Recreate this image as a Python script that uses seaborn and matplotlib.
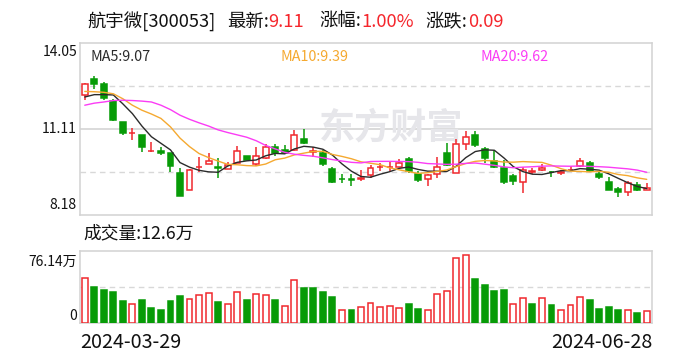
import numpy as np
import pandas as pd
import matplotlib
matplotlib.use("Agg")
import matplotlib.pyplot as plt
import seaborn as sns

# ---------------- data ----------------
stock_name = "航宇微[300053]"
latest = "9.11"
pct_change = "1.00%"
change = "0.09"
ma_labels = ["MA5:9.07", "MA10:9.39", "MA20:9.62"]
volume_label = "成交量:12.6万"
volume_max_label = "76.14万"
price_ticks = [14.05, 11.11, 8.18]
volume_max = 76.14
start_date = "2024-03-29"
end_date = "2024-06-28"

opens = [12.26, 12.80, 12.63, 12.05, 11.35, 10.97, 10.90, 10.35, 10.35, 10.29,
         9.62, 9.03, 9.81, 9.92, 9.82, 9.76, 9.95, 10.18, 9.93, 10.11,
         10.49, 10.40, 10.38, 10.77, 10.34, 10.29, 9.76, 9.42, 9.42, 9.39,
         9.54, 9.80, 9.81, 9.82, 10.10, 9.58, 9.41, 9.56, 10.29, 9.62,
         10.59, 10.91, 10.43, 10.01, 9.79, 9.50, 9.31, 9.66, 9.70, 9.65,
         9.62, 9.70, 9.84, 9.95, 9.58, 9.31, 9.08, 8.98, 9.19, 9.03]
highs = [12.68, 12.91, 12.70, 12.14, 11.36, 11.13, 10.92, 10.68, 10.49, 10.30,
         9.79, 9.74, 10.16, 10.29, 10.12, 9.97, 10.54, 10.20, 10.49, 10.60,
         10.60, 10.56, 11.08, 11.11, 10.49, 10.40, 9.82, 9.56, 9.56, 9.73,
         9.89, 9.95, 9.99, 10.10, 10.16, 9.67, 9.56, 10.16, 10.63, 10.78,
         11.04, 11.04, 10.49, 10.38, 10.07, 9.56, 9.82, 9.79, 9.92, 9.69,
         9.72, 9.86, 10.11, 10.03, 9.67, 9.48, 9.13, 9.33, 9.31, 9.28]
lows = [12.11, 12.48, 12.11, 11.38, 10.92, 10.74, 10.31, 10.33, 10.23, 9.64,
        8.82, 9.02, 9.64, 9.91, 9.45, 9.75, 9.94, 10.05, 9.86, 10.08,
        10.18, 10.27, 10.37, 10.60, 10.16, 9.86, 9.28, 9.28, 9.17, 9.33,
        9.45, 9.67, 9.67, 9.81, 9.62, 9.30, 9.17, 9.45, 9.84, 9.60,
        10.38, 10.49, 9.95, 9.79, 9.22, 9.19, 8.94, 9.58, 9.69, 9.48,
        9.54, 9.68, 9.82, 9.66, 9.39, 9.02, 8.79, 8.83, 9.01, 9.02]
closes = [12.65, 12.63, 12.18, 11.41, 10.96, 10.99, 10.51, 10.36, 10.29, 9.84,
          8.83, 9.73, 9.82, 10.03, 9.77, 9.88, 10.37, 10.07, 10.18, 10.49,
          10.28, 10.30, 10.90, 10.63, 10.35, 9.92, 9.31, 9.40, 9.38, 9.45,
          9.79, 9.82, 9.83, 9.95, 9.69, 9.37, 9.53, 9.82, 9.89, 10.60,
          10.83, 10.57, 10.11, 9.82, 9.30, 9.33, 9.73, 9.67, 9.77, 9.63,
          9.65, 9.73, 10.02, 9.67, 9.47, 9.03, 8.96, 9.28, 9.02, 9.11]
volumes = [47.5, 38.2, 35.4, 33.2, 23.6, 20.0, 24.3, 15.7, 13.6, 23.6,
           28.6, 25.4, 29.3, 31.8, 22.5, 20.0, 32.9, 24.3, 30.7, 29.3,
           24.3, 17.9, 45.8, 37.5, 37.5, 33.2, 27.9, 13.6, 13.9, 16.4,
           21.1, 16.8, 17.9, 15.7, 20.0, 14.7, 13.6, 30.7, 34.0, 69.0,
           71.5, 46.8, 40.4, 34.0, 35.0, 20.0, 26.5, 20.0, 26.5, 18.9,
           13.6, 18.6, 27.5, 24.3, 14.7, 16.8, 13.6, 13.6, 10.4, 12.6]
# moving-average values before enough closes exist in the window
ma5_head = [12.20, 12.28, 12.28, 12.27]
ma10_head = [12.39, 12.38, 12.36, 12.31, 12.14, 11.92, 11.75, 11.62, 11.47]
ma20_head = [11.92, 11.99, 12.03, 12.08, 12.09, 12.08, 12.06, 12.03, 11.92, 11.77,
             11.58, 11.44, 11.32, 11.21, 11.08, 10.99, 10.91, 10.83, 10.71]

# ---------------- styling ----------------
RED = "#f0282d"
GREEN = "#079b07"
TITLE_RED = "#f5262c"
MA_COLORS = ["#2b2b2b", "#f5a930", "#fb3cf5"]
BORDER = "#d2d2d2"
GRID = "#d8d8d8"
TXT = "#111111"

sns.set_theme(style="white")
plt.rcParams["font.family"] = ["Noto Sans CJK SC", "DejaVu Sans"]

n = len(closes)
df = pd.DataFrame({"day": np.arange(n), "open": opens, "high": highs,
                   "low": lows, "close": closes, "volume": volumes})
c = df["close"]
df["ma5"] = c.rolling(5).mean()
df["ma10"] = c.rolling(10).mean()
df["ma20"] = c.rolling(20).mean()
df.loc[: len(ma5_head) - 1, "ma5"] = ma5_head
df.loc[: len(ma10_head) - 1, "ma10"] = ma10_head
df.loc[: len(ma20_head) - 1, "ma20"] = ma20_head

W, H = 688, 360
fig = plt.figure(figsize=(W / 100, H / 100), dpi=100)
fig.patch.set_facecolor("white")


def fx(x):
    return x / W


def fy(y):
    return 1 - y / H


L, R = 80, 651.5
P_TOP, P_BOT = 42.7, 215
V_TOP, V_BOT = 251, 323
ax1 = fig.add_axes([fx(L), fy(P_BOT), (R - L) / W, (P_BOT - P_TOP) / H])
ax2 = fig.add_axes([fx(L), fy(V_BOT), (R - L) / W, (V_BOT - V_TOP) / H])

# ---------------- price panel ----------------
up = (df["close"] >= df["open"]).to_numpy()
body_lo = np.minimum(df["open"], df["close"]).to_numpy()
body_hi = np.maximum(df["open"], df["close"]).to_numpy()
body_h = np.maximum(body_hi - body_lo, 0.02)
cols = np.where(up, RED, GREEN)
x = df["day"].to_numpy()

ax1.vlines(x, df["low"], body_lo, colors=cols, linewidth=1.1, zorder=2)
ax1.vlines(x, body_hi, df["high"], colors=cols, linewidth=1.1, zorder=2)
ax1.bar(x, body_h, bottom=body_lo, width=0.62,
        color=np.where(up, "white", GREEN), edgecolor=cols, linewidth=1.1, zorder=3)

for key, colr in zip(["ma5", "ma10", "ma20"], MA_COLORS):
    sns.lineplot(data=df, x="day", y=key, ax=ax1, color=colr, linewidth=1.0,
                 zorder=4, legend=False)

top, mid, bot = price_ticks
ax1.axhline(mid, color=GRID, linewidth=1.3, zorder=0)
ax1.axhline((top + mid) / 2, color=GRID, linewidth=1.0, linestyle=(0, (4, 3)), zorder=0)
ax1.axhline((mid + bot) / 2, color=GRID, linewidth=1.0, linestyle=(0, (4, 3)), zorder=0)
ax1.set_ylim(bot, top)
ax1.set_xlim(-0.5, n - 0.5)

# watermark
ax1.text(0.545, 0.505, "东方财富", transform=ax1.transAxes, ha="center", va="center",
         fontsize=26, color="#e6e6ea", fontweight="bold", zorder=0)

# ---------------- volume panel ----------------
vol_up = np.concatenate([[closes[0] >= opens[0]], np.diff(closes) >= 0])
sns.barplot(data=df, x="day", y="volume", ax=ax2, width=0.62, errorbar=None,
            color=GREEN, zorder=3)
for patch, is_up in zip(sorted(ax2.patches, key=lambda p: p.get_x()), vol_up):
    patch.set_facecolor("white" if is_up else GREEN)
    patch.set_edgecolor(RED if is_up else GREEN)
    patch.set_linewidth(1.1)
ax2.axhline(volume_max / 2, color=GRID, linewidth=1.0, linestyle=(0, (4, 3)), zorder=0)
ax2.set_ylim(0, volume_max)
ax2.set_xlim(-0.5, n - 0.5)

for ax in (ax1, ax2):
    ax.set_xticks([])
    ax.set_yticks([])
    ax.set_xlabel("")
    ax.set_ylabel("")
    ax.set_facecolor("white")
    for s in ax.spines.values():
        s.set_visible(True)
        s.set_color(BORDER)
        s.set_linewidth(1.1)

# ---------------- texts ----------------
def ftext(xp, yp, s, color=TXT, size=10, ha="left"):
    return fig.text(fx(xp), fy(yp), s, color=color, fontsize=size, ha=ha, va="center")


renderer = fig.canvas.get_renderer()
title_parts = [(stock_name, TXT, 11), ("最新:", TXT, 0), (latest, TITLE_RED, 15),
               ("涨幅:", TXT, 0), (pct_change, TITLE_RED, 12),
               ("涨跌:", TXT, 0), (change, TITLE_RED, 0)]
xcur = 87.5
for s, colr, gap in title_parts:
    t = ftext(xcur, 22, s, colr, 13.2)
    bb = t.get_window_extent(renderer)
    xcur = bb.x1 + gap

for xp, s, colr in zip([90, 281, 480], ma_labels, MA_COLORS):
    ftext(xp, 57, s, colr, 10.3)

ftext(77, 52, f"{price_ticks[0]:.2f}", size=10, ha="right")
ftext(77, 129, f"{price_ticks[1]:.2f}", size=10, ha="right")
ftext(77, 205, f"{price_ticks[2]:.2f}", size=10, ha="right")

ftext(83, 233, volume_label, size=12.8)
ftext(77, 262, volume_max_label, size=10, ha="right")
ftext(77, 316, "0", size=10, ha="right")

ftext(80, 342, start_date, size=14.2)
ftext(652, 342, end_date, size=14.2, ha="right")

fig.savefig("out.png", dpi=100, facecolor="white")
